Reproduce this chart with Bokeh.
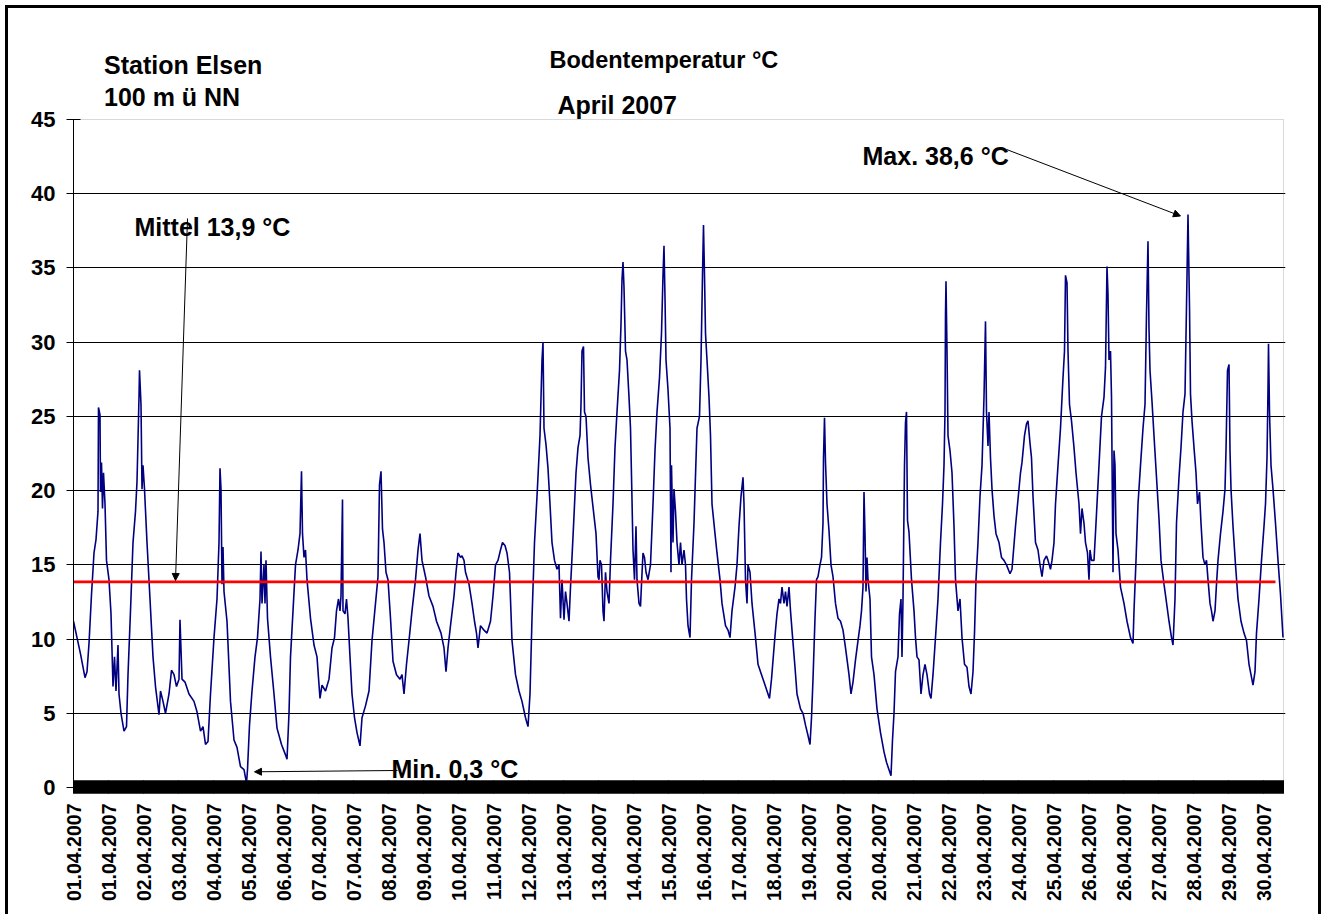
from bokeh.plotting import figure
from bokeh.models import Range1d, FixedTicker, Label, Arrow, NormalHead, BoxAnnotation
from bokeh.embed import file_html
from bokeh.resources import INLINE

# ---------------- data ----------------
N_MESSWERTE = 2420          # number of categories on the x axis
LABEL_ABSTAND = 70          # a date label every 70 categories

datum_labels = ["01.04.2007", "01.04.2007", "02.04.2007", "03.04.2007", "04.04.2007",
                "05.04.2007", "06.04.2007", "07.04.2007", "07.04.2007", "08.04.2007",
                "09.04.2007", "10.04.2007", "11.04.2007", "12.04.2007", "13.04.2007",
                "13.04.2007", "14.04.2007", "15.04.2007", "16.04.2007", "17.04.2007",
                "18.04.2007", "19.04.2007", "20.04.2007", "20.04.2007", "21.04.2007",
                "22.04.2007", "23.04.2007", "24.04.2007", "25.04.2007", "26.04.2007",
                "26.04.2007", "27.04.2007", "28.04.2007", "29.04.2007", "30.04.2007"]

y_ticks = [0, 5, 10, 15, 20, 25, 30, 35, 40, 45]

mess_nr = [0, 7, 14, 23, 27, 31, 36, 41, 45, 49, 50, 53, 54, 56, 58, 60, 63, 66, 71, 75, 79, 82, 85, 89, 91, 95,
           101, 106, 109, 114, 119, 124, 127, 131, 132, 135, 137, 139, 142, 147, 153, 159, 164, 171, 174, 179, 184,
           191, 196, 201, 206, 211, 213, 217, 223, 231, 241, 247, 254, 259, 264, 269, 274, 281, 287, 291, 293, 295,
           297, 299, 301, 307, 314, 321, 327, 334, 341, 346, 348, 352, 357, 363, 368, 373, 375, 377, 381, 383, 385,
           388, 394, 401, 407, 416, 424, 427, 431, 434, 439, 444, 449, 453, 456, 458, 461, 464, 467, 474, 481, 487,
           493, 497, 504, 511, 517, 522, 526, 530, 533, 535, 538, 539, 543, 546, 549, 553, 557, 562, 567, 573, 577,
           584, 591, 597, 604, 609, 612, 615, 618, 621, 625, 629, 634, 639, 646, 653, 657, 661, 666, 671, 677, 684,
           689, 693, 697, 704, 711, 719, 726, 735, 741, 745, 749, 754, 761, 765, 769, 774, 777, 781, 784, 791, 797,
           802, 806, 809, 814, 821, 827, 834, 839, 844, 849, 854, 858, 863, 867, 872, 877, 884, 891, 897, 904, 909,
           913, 917, 922, 927, 933, 937, 939, 941, 945, 949, 953, 957, 962, 967, 971, 974, 977, 981, 984, 987, 991,
           994, 997, 1001, 1005, 1009, 1013, 1015, 1017, 1020, 1022, 1025, 1029, 1034, 1041, 1045, 1049, 1051, 1053,
           1056, 1059, 1061, 1064, 1067, 1071, 1074, 1079, 1083, 1087, 1092, 1095, 1097, 1099, 1101, 1104, 1107,
           1111, 1114, 1117, 1119, 1122, 1125, 1127, 1131, 1134, 1136, 1139, 1142, 1145, 1149, 1154, 1159, 1163,
           1167, 1172, 1176, 1179, 1181, 1183, 1185, 1189, 1193, 1195, 1196, 1199, 1201, 1204, 1207, 1211, 1214,
           1217, 1221, 1224, 1226, 1229, 1233, 1236, 1241, 1247, 1252, 1255, 1258, 1260, 1262, 1264, 1267, 1271,
           1274, 1277, 1283, 1287, 1293, 1297, 1304, 1309, 1313, 1317, 1323, 1327, 1331, 1335, 1339, 1341, 1344,
           1347, 1349, 1353, 1357, 1364, 1369, 1374, 1381, 1387, 1392, 1396, 1401, 1404, 1407, 1411, 1414, 1417,
           1421, 1424, 1427, 1431, 1434, 1437, 1443, 1447, 1454, 1459, 1464, 1469, 1473, 1476, 1479, 1483, 1486,
           1489, 1493, 1496, 1499, 1500, 1502, 1504, 1507, 1511, 1515, 1519, 1524, 1529, 1534, 1539, 1544, 1551,
           1555, 1559, 1564, 1569, 1573, 1576, 1579, 1581, 1583, 1585, 1587, 1589, 1593, 1596, 1601, 1607, 1614,
           1621, 1626, 1631, 1635, 1638, 1641, 1644, 1649, 1652, 1655, 1657, 1659, 1662, 1664, 1666, 1668, 1671,
           1676, 1681, 1684, 1687, 1691, 1695, 1699, 1703, 1707, 1712, 1715, 1719, 1724, 1729, 1734, 1738, 1741,
           1743, 1744, 1745, 1747, 1749, 1753, 1757, 1761, 1764, 1769, 1773, 1777, 1782, 1787, 1791, 1795, 1799,
           1802, 1805, 1809, 1813, 1817, 1821, 1824, 1826, 1829, 1831, 1834, 1837, 1841, 1845, 1851, 1856, 1861,
           1866, 1873, 1877, 1884, 1889, 1894, 1897, 1902, 1906, 1909, 1913, 1916, 1919, 1924, 1929, 1933, 1937,
           1941, 1946, 1949, 1954, 1957, 1961, 1964, 1969, 1974, 1979, 1982, 1984, 1987, 1989, 1992, 1996, 2001,
           2005, 2011, 2014, 2017, 2021, 2024, 2028, 2031, 2033, 2036, 2041, 2045, 2051, 2056, 2061, 2064, 2067,
           2069, 2071, 2074, 2076, 2079, 2081, 2083, 2085, 2089, 2094, 2101, 2107, 2114, 2119, 2121, 2125, 2129,
           2134, 2139, 2143, 2146, 2149, 2151, 2153, 2157, 2161, 2166, 2171, 2175, 2181, 2185, 2191, 2196, 2199,
           2203, 2206, 2211, 2215, 2219, 2223, 2226, 2229, 2232, 2234, 2237, 2241, 2245, 2248, 2252, 2255, 2259,
           2263, 2266, 2269, 2273, 2276, 2279, 2283, 2286, 2289, 2294, 2299, 2303, 2305, 2308, 2311, 2313, 2315,
           2319, 2324, 2329, 2335, 2341, 2346, 2351, 2355, 2359, 2363, 2366, 2371, 2376, 2381, 2384, 2387, 2389,
           2390, 2392, 2395, 2399, 2404, 2409, 2414, 2419]

temperatur = [11.2, 10.1, 9.0, 7.4, 7.8, 9.7, 13.0, 15.8, 16.7, 18.6, 25.6, 25.1, 19.9, 21.9, 18.8, 21.2, 19.1, 15.3,
              14.0, 11.7, 6.8, 8.8, 6.5, 9.6, 6.3, 5.0, 3.8, 4.1, 7.6, 11.9, 16.5, 18.6, 20.6, 26.3, 28.1, 25.8, 20.1,
              21.7, 20.1, 16.5, 12.7, 8.8, 6.8, 4.9, 6.5, 5.8, 5.0, 6.3, 7.9, 7.6, 6.8, 7.3, 11.3, 7.3, 7.1, 6.3, 5.8,
              5.1, 3.8, 4.1, 2.9, 3.1, 6.3, 10.1, 12.7, 16.5, 21.5, 20.1, 13.7, 16.2, 13.2, 11.2, 5.8, 3.2, 2.7, 1.4,
              1.2, 0.3, 1.2, 4.2, 6.5, 8.8, 10.1, 12.7, 15.9, 12.4, 15.0, 12.4, 15.3, 11.4, 8.8, 6.3, 4.0, 2.9, 2.2,
              1.9, 5.0, 8.8, 11.9, 15.0, 16.0, 17.1, 21.3, 17.1, 15.5, 16.0, 14.0, 11.4, 9.6, 8.8, 6.0, 6.9, 6.5, 7.3,
              9.4, 10.1, 11.9, 12.7, 11.9, 12.9, 19.4, 11.9, 11.7, 12.7, 11.4, 8.8, 6.3, 4.7, 3.7, 2.8, 4.7, 5.5, 6.5,
              9.9, 12.4, 14.2, 20.4, 21.3, 17.4, 16.5, 14.5, 14.0, 11.4, 8.5, 7.6, 7.3, 7.6, 6.3, 8.3, 9.9, 11.9,
              14.0, 16.0, 17.1, 15.3, 14.2, 12.9, 12.2, 11.2, 10.4, 9.4, 7.8, 9.4, 10.9, 12.9, 14.5, 15.8, 15.5,
              15.6, 15.3, 14.5, 13.7, 12.4, 11.2, 10.4, 9.4, 10.9, 10.6, 10.4, 11.2, 12.9, 15.0, 15.3, 16.0, 16.5,
              16.3, 15.8, 14.5, 9.9, 7.6, 6.5, 5.8, 4.7, 4.1, 6.3, 11.4, 16.5, 19.6, 23.7, 28.8, 30.0, 24.2, 23.1,
              21.5, 19.1, 16.5, 15.3, 14.7, 15.0, 11.4, 14.0, 11.3, 13.2, 12.4, 11.2, 13.5, 15.5, 18.3, 21.2, 22.9,
              23.7, 25.8, 29.4, 29.7, 25.3, 25.0, 22.2, 20.4, 18.3, 17.1, 14.2, 14.0, 15.3, 15.0, 11.9, 11.2, 14.5,
              13.2, 12.4, 15.3, 19.1, 22.9, 25.3, 28.1, 31.2, 34.2, 35.4, 33.7, 29.4, 28.8, 26.3, 24.2, 19.4, 16.0,
              14.0, 17.6, 14.0, 12.4, 12.2, 13.7, 15.8, 15.5, 14.5, 14.0, 15.0, 19.1, 22.7, 25.3, 27.6, 30.6, 34.5,
              36.5, 33.0, 28.8, 26.8, 24.2, 14.5, 21.7, 16.5, 20.1, 18.6, 16.5, 15.0, 16.5, 15.0, 16.0, 15.0, 12.7,
              10.9, 10.1, 14.0, 17.8, 24.2, 25.0, 28.8, 34.5, 37.9, 34.5, 30.6, 28.8, 26.3, 23.7, 19.1, 17.1, 15.8,
              14.0, 12.4, 10.9, 10.6, 10.1, 11.9, 13.5, 15.0, 17.6, 19.6, 20.9, 19.1, 14.0, 12.4, 15.0, 14.5, 12.4,
              10.1, 8.3, 7.8, 7.1, 6.5, 6.0, 7.3, 9.4, 10.6, 11.7, 12.7, 12.4, 13.5, 12.4, 13.2, 12.2, 13.5, 11.9,
              10.6, 8.1, 6.3, 5.3, 5.0, 4.2, 3.5, 2.9, 4.7, 7.3, 11.4, 14.0, 14.2, 15.0, 15.5, 17.8, 22.2, 24.9,
              21.9, 19.1, 17.3, 15.0, 14.2, 12.4, 11.4, 11.2, 10.6, 9.4, 7.6, 6.3, 7.1, 8.6, 9.9, 10.9, 11.9, 13.5,
              19.9, 17.1, 13.2, 15.5, 14.0, 12.7, 8.8, 7.6, 5.3, 3.7, 2.4, 1.7, 1.2, 0.8, 3.2, 5.0, 7.8, 8.8, 11.7,
              12.7, 8.8, 12.7, 21.7, 24.6, 25.3, 18.0, 17.2, 14.0, 11.9, 10.1, 8.8, 8.6, 6.3, 7.6, 8.3, 7.6, 6.3,
              6.0, 7.6, 10.1, 12.7, 16.5, 19.1, 21.7, 25.3, 31.9, 34.1, 29.4, 23.7, 22.7, 21.2, 17.6, 14.0, 11.9,
              12.7, 10.1, 8.3, 8.1, 6.8, 6.3, 7.8, 10.4, 14.0, 16.5, 19.6, 21.7, 26.3, 31.4, 25.3, 23.0, 25.3, 22.2,
              20.1, 18.3, 17.1, 16.5, 15.5, 15.3, 15.0, 14.4, 14.7, 17.6, 19.4, 21.2, 21.9, 23.7, 24.5, 24.7, 23.2,
              22.2, 19.6, 16.5, 16.0, 15.0, 14.2, 15.3, 15.6, 15.3, 14.7, 15.3, 16.5, 19.1, 21.7, 24.2, 27.6, 29.4,
              34.5, 34.0, 29.4, 25.8, 24.7, 22.9, 21.2, 19.1, 17.1, 18.8, 17.8, 16.5, 15.8, 14.0, 16.0, 15.3, 15.3,
              17.8, 21.7, 25.0, 26.3, 28.3, 35.1, 33.2, 28.8, 29.4, 26.3, 14.5, 22.7, 21.7, 17.1, 16.0, 13.5, 12.4,
              11.2, 10.1, 9.7, 11.9, 15.3, 19.1, 21.7, 24.2, 25.8, 31.9, 36.8, 30.9, 28.1, 26.0, 23.7, 20.9, 18.1,
              15.3, 13.7, 12.7, 11.2, 10.1, 9.6, 12.7, 17.8, 20.9, 22.9, 25.3, 26.5, 32.4, 38.6, 32.4, 26.5, 24.7,
              22.9, 21.2, 19.1, 19.9, 17.8, 15.5, 15.0, 15.3, 14.0, 12.4, 11.9, 11.2, 11.9, 13.7, 15.3, 17.1, 18.6,
              20.1, 22.7, 28.1, 28.5, 22.7, 20.1, 17.6, 15.0, 12.7, 11.2, 10.4, 9.9, 8.3, 7.6, 6.9, 7.8, 10.4, 12.7,
              15.3, 17.6, 19.1, 22.2, 26.8, 29.9, 25.3, 21.7, 20.1, 17.8, 15.3, 13.0, 10.1]

mittel_x = [0, 2404]
mittel_y = [13.85, 13.85]

# ---------------- figure ----------------
FONT = "Liberation Sans"
W, H = 1326, 914
FRAME_TOP = 8                       # the drawing frame reaches up so the headings are not clipped
Y_TOP = 45 * (787 - FRAME_TOP) / (787 - 119)   # value at the frame top, so that 45 sits at y=119
X_PAD = 4                           # small pad so the right border line is not clipped

p = figure(width=W, height=H,
           x_range=Range1d(0, N_MESSWERTE + X_PAD), y_range=Range1d(0, Y_TOP),
           output_backend="svg", toolbar_location=None,
           min_border_left=73, min_border_right=W - 1285, min_border_top=FRAME_TOP,
           min_border_bottom=H - 787)
p.background_fill_color = None
p.border_fill_color = None
p.outline_line_color = None
# outer frame of the chart picture (left, top, right edges)
p.styles = {"background-color": "white",
            "box-shadow": ("inset 5px 0 0 0 #fff, inset 0 5px 0 0 #fff, inset -5px 0 0 0 #fff, "
                           "inset 8px 0 0 0 #000, inset 0 8px 0 0 #000, inset -8px 0 0 0 #000")}

p.xgrid.visible = False
p.ygrid.ticker = FixedTicker(ticks=y_ticks[1:-1])
p.ygrid.grid_line_color = "black"
p.ygrid.grid_line_width = 1

# plot-area border (gray), drawn underneath the axes
p.add_layout(BoxAnnotation(left=0, right=N_MESSWERTE, bottom=0, top=y_ticks[-1],
                           fill_color=None, line_color="#808080", line_width=1, level="underlay"))

tick_pos = [i * LABEL_ABSTAND for i in range(len(datum_labels))]
xax = p.xaxis[0]
xax.bounds = (0, N_MESSWERTE)
xax.ticker = FixedTicker(ticks=tick_pos, minor_ticks=list(range(N_MESSWERTE + 1)))
xax.major_label_overrides = {pos: lab for pos, lab in zip(tick_pos, datum_labels)}
xax.major_label_orientation = 1.5707963267948966
xax.axis_line_color = "black"
xax.major_tick_line_color = "black"
xax.minor_tick_line_color = "black"
xax.major_tick_in = 7
xax.major_tick_out = 6
xax.minor_tick_in = 7
xax.minor_tick_out = 6
xax.major_label_standoff = 10
xax.major_label_text_font = FONT
xax.major_label_text_font_size = "19.5px"
xax.major_label_text_font_style = "bold"
xax.major_label_text_color = "black"

yax = p.yaxis[0]
yax.bounds = (0, y_ticks[-1])
yax.ticker = FixedTicker(ticks=y_ticks)
yax.axis_line_color = "black"
yax.major_tick_line_color = "black"
yax.minor_tick_line_color = None
yax.major_tick_in = 7
yax.major_tick_out = 7
yax.major_label_standoff = 11
yax.major_label_text_font = FONT
yax.major_label_text_font_size = "22px"
yax.major_label_text_font_style = "bold"
yax.major_label_text_color = "black"

p.line(mess_nr, temperatur, line_color="#000080", line_width=1.6)
p.line(mittel_x, mittel_y, line_color="#FF0000", line_width=2.6)


# annotation placement helpers (page pixel -> axis units)
def ax_x(px):
    return 2.0 * (px - 73)


def ax_y(py):
    return (787 - py) / 14.844


def make_label(txt, px, py, size):
    common = dict(text=txt, text_font=FONT, text_font_size=size, text_font_style="bold",
                  text_color="black", text_align="left", text_baseline="alphabetic")
    try:
        return Label(x=px, y=py, x_units="canvas", y_units="canvas", **common)
    except Exception:
        return Label(x=ax_x(px), y=ax_y(py), **common)


for txt, px, py, size in [("Station Elsen", 103.5, 64.5, "25px"),
                          ("100 m ü NN", 103.5, 96, "25px"),
                          ("Bodentemperatur °C", 549, 59.5, "23.5px"),
                          ("April 2007", 557, 104.5, "25px"),
                          ("Mittel 13,9 °C", 134, 226, "25px"),
                          ("Max. 38,6 °C", 862, 155, "25px"),
                          ("Min. 0,3 °C", 391, 768, "25px")]:
    p.add_layout(make_label(txt, px, py, size))


def add_arrow(x0, y0, x1, y1):
    p.add_layout(Arrow(end=NormalHead(size=7, fill_color="black", line_color="black", line_width=1),
                       x_start=ax_x(x0), y_start=ax_y(y0), x_end=ax_x(x1), y_end=ax_y(y1),
                       line_color="black", line_width=1))


add_arrow(187, 218, 175, 580)
add_arrow(1006, 149, 1180, 215.5)
add_arrow(397, 770, 254, 771.3)

open("out.html", "w").write(file_html(p, INLINE))
